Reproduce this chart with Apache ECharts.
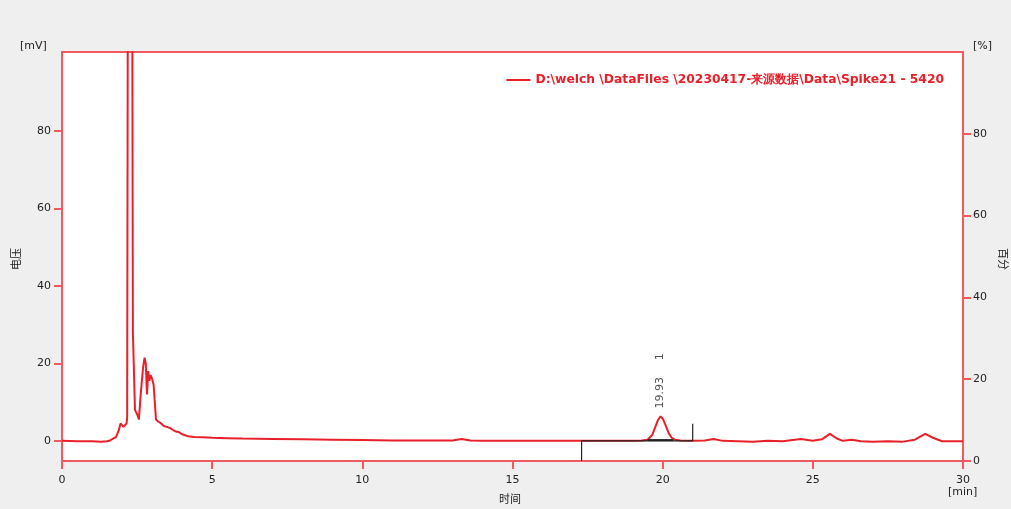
<!DOCTYPE html>
<html>
<head>
<meta charset="utf-8">
<script src="https://cdn.jsdelivr.net/npm/echarts@6/dist/echarts.min.js"></script>
<style>
html, body { margin: 0; padding: 0; background: #efefef; }
#chart { width: 1011px; height: 509px; }
</style>
</head>
<body>
<div id="chart"></div>
<script>
// 色谱数据 (min, mV)
var times = [0, 0.5, 1.0, 1.3, 1.5, 1.6, 1.7, 1.8, 1.88, 1.95, 2.0, 2.05, 2.1, 2.15, 2.17, 2.19, 2.2, 2.33, 2.34, 2.36, 2.43,
  2.52, 2.56, 2.62, 2.7, 2.75, 2.79, 2.83, 2.87, 2.91, 2.95, 3.0, 3.05, 3.09, 3.13, 3.2, 3.3, 3.4, 3.5, 3.6, 3.7, 3.8,
  3.9, 4.0, 4.2, 4.4, 4.7, 5.0, 5.5, 6.0, 7.0, 8.0, 9.0, 10.0, 11.0, 12.0, 13.0, 13.3, 13.6, 14.0, 15.0, 16.0, 17.0,
  18.0, 19.0, 19.3, 19.5, 19.65, 19.75, 19.85, 19.93, 20.0, 20.1, 20.2, 20.3, 20.4, 20.6, 21.0, 21.4, 21.7, 22.0,
  22.5, 23.0, 23.5, 24.0, 24.6, 25.0, 25.3, 25.57, 25.8, 26.0, 26.3, 26.6, 27.0, 27.5, 28.0, 28.4, 28.74, 29.0,
  29.3, 29.6, 30.0];
var signal = [0, -0.1, -0.1, -0.2, -0.1, 0.1, 0.6, 1.0, 2.5, 4.5, 4.2, 3.6, 3.4, 4.5, 6, 110, 400, 400, 110, 28, 8,
  6.5, 5.5, 12, 19, 21.5, 20, 12, 18, 15.5, 17, 16, 14.5, 10, 5.5, 5.0, 4.5, 3.8, 3.6, 3.3, 2.8, 2.4,
  2.2, 1.7, 1.2, 1.0, 0.9, 0.8, 0.7, 0.6, 0.5, 0.4, 0.3, 0.2, 0.1, 0.1, 0.1, 0.5, 0.1, 0.0, 0.0, 0.0, 0.0,
  0.0, 0.0, 0.1, 0.3, 1.5, 3.5, 5.5, 6.3, 5.8, 4.0, 2.0, 0.8, 0.3, 0.1, 0.0, 0.1, 0.5, 0.0,
  -0.1, -0.2, 0.0, -0.1, 0.5, 0.0, 0.4, 1.8, 0.6, 0.0, 0.3, -0.1, -0.2, -0.1, -0.2, 0.3, 1.8, 0.8,
  -0.1, -0.1, -0.1];

// 积分基线
var baseTimes = [17.3, 17.3, 21.0, 21.0];
var baseValues = [-5.2, 0, 0, 4.4];
var peakBaseTimes = [19.5, 20.35];
var peakBaseValues = [0.2, 0.2];

// 峰标注
var peakTime = 19.93;
var peakLabels = ['19.93', '1'];
var peakLabelValues = [12.4, 21.7];

var xTicks = [0, 5, 10, 15, 20, 25, 30];
var leftTicks = [0, 20, 40, 60, 80];
var rightTicks = [0, 20, 40, 60, 80];

var legendName = 'D:\\welch \\DataFiles \\20230417-来源数据\\Data\\Spike21 - 5420';

var red = '#e8202a';
var axisRed = '#f05a5f';
var labelFont = { color: '#222', fontSize: 11, fontFamily: 'DejaVu Sans' };

function zip(a, b) {
  var out = [];
  for (var i = 0; i < a.length; i++) out.push([a[i], b[i]]);
  return out;
}

var chart = echarts.init(document.getElementById('chart'));
chart.setOption({
  backgroundColor: '#efefef',
  animation: false,
  grid: {
    left: 62, right: 48, top: 52, bottom: 48,
    show: true, backgroundColor: '#fff', borderColor: axisRed, borderWidth: 2
  },
  legend: {
    right: 62, top: 69,
    itemWidth: 24, itemHeight: 2, itemGap: 10,
    data: [{ name: legendName, icon: 'rect' }],
    textStyle: { color: red, fontWeight: 'bold', fontSize: 12.3, fontFamily: 'DejaVu Sans' }
  },
  xAxis: {
    type: 'value', min: 0, max: 30,
    axisLine: { show: true, onZero: false, lineStyle: { color: axisRed, width: 2 } },
    axisTick: { show: true, length: 8, lineStyle: { color: axisRed, width: 2 }, customValues: xTicks },
    axisLabel: Object.assign({ margin: 14, customValues: xTicks }, labelFont),
    splitLine: { show: false }
  },
  yAxis: [{
    type: 'value', min: -5.2, max: 100.4, position: 'left',
    axisLine: { show: true, onZero: false, lineStyle: { color: axisRed, width: 2 } },
    axisTick: { show: true, length: 8, lineStyle: { color: axisRed, width: 2 }, customValues: leftTicks },
    axisLabel: Object.assign({ margin: 11, customValues: leftTicks }, labelFont),
    splitLine: { show: false }
  }, {
    type: 'value', min: 0, max: 100, position: 'right',
    axisLine: { show: true, onZero: false, lineStyle: { color: axisRed, width: 2 } },
    axisTick: { show: true, length: 8, lineStyle: { color: axisRed, width: 2 }, customValues: rightTicks },
    axisLabel: Object.assign({ margin: 10, customValues: rightTicks }, labelFont),
    splitLine: { show: false }
  }],
  series: [{
    name: legendName,
    type: 'line',
    data: zip(times, signal),
    symbol: 'none',
    clip: true,
    lineStyle: { color: red, width: 2 },
    itemStyle: { color: red }
  }, {
    name: 'baseline',
    type: 'line',
    data: zip(baseTimes, baseValues),
    symbol: 'none',
    lineStyle: { color: '#222', width: 1.2 }
  }, {
    name: 'peakBase',
    type: 'line',
    data: zip(peakBaseTimes, peakBaseValues),
    symbol: 'none',
    lineStyle: { color: '#222', width: 2 }
  }, {
    name: 'peakLabel',
    type: 'scatter',
    symbolSize: 0,
    data: peakLabels.map(function (t, i) { return { value: [peakTime, peakLabelValues[i]], name: t }; }),
    label: {
      show: true, position: 'inside', rotate: 90,
      formatter: function (p) { return p.name; },
      color: '#222', fontSize: 11, fontFamily: 'DejaVu Sans'
    }
  }],
  graphic: [
    { type: 'text', left: 20, top: 41, style: { text: '[mV]', fill: '#222', font: '11px "DejaVu Sans"' } },
    { type: 'text', left: 973, top: 41, style: { text: '[%]', fill: '#222', font: '11px "DejaVu Sans"' } },
    { type: 'text', left: 10, top: 248, rotation: Math.PI / 2, style: { text: '电压', fill: '#222', font: '11px "Noto Sans CJK SC"' } },
    { type: 'text', left: 998, top: 248, rotation: -Math.PI / 2, style: { text: '百分', fill: '#222', font: '11px "Noto Sans CJK SC"' } },
    { type: 'text', left: 499, top: 493, style: { text: '时间', fill: '#222', font: '11px "Noto Sans CJK SC"' } },
    { type: 'text', left: 948, top: 487, style: { text: '[min]', fill: '#222', font: '11px "DejaVu Sans"' } }
  ]
});
</script>
</body>
</html>
